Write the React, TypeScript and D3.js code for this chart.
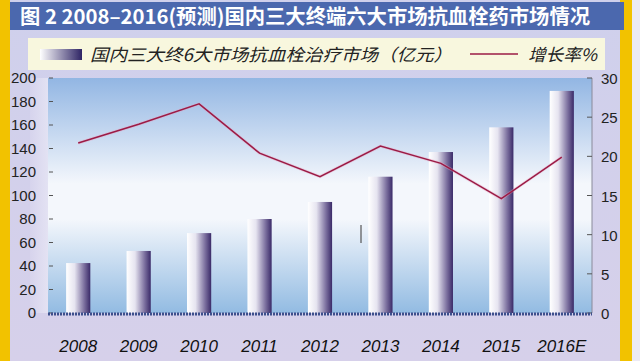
import React from "react";
import * as d3 from "d3";

const categories = ["2008", "2009", "2010", "2011", "2012", "2013", "2014", "2015", "2016E"];
const marketValues = [42.5, 52.8, 68, 80, 94.5, 116, 137, 158, 189];
const growthRates = [21.7, 24.1, 26.7, 20.4, 17.4, 21.3, 19.1, 14.6, 19.9];
const leftTicks = [0, 20, 40, 60, 80, 100, 120, 140, 160, 180, 200];
const rightTicks = [0, 5, 10, 15, 20, 25, 30];
const titleText = "图 2 2008–2016(预测)国内三大终端六大市场抗血栓药市场情况";
const legendBar = "国内三大终6大市场抗血栓治疗市场（亿元）";
const legendLine = "增长率%";

const W = 640, H = 361;
const plot = { left: 48, right: 592, top: 78, bottom: 313 };

export default function App() {
  const x = d3.scaleBand<string>().domain(categories).range([plot.left, plot.right]).paddingInner(0.6).paddingOuter(0.3);
  const yL = d3.scaleLinear().domain([0, 200]).range([plot.bottom, plot.top]);
  const yR = d3.scaleLinear().domain([0, 30]).range([plot.bottom, plot.top]);
  const cx = (c: string) => (x(c) as number) + x.bandwidth() / 2;
  const line = d3.line<number>().x((_, i) => cx(categories[i])).y(d => yR(d));
  const lineD = line(growthRates) || "";
  const sans = "'Liberation Sans', Arial, sans-serif";
  const cjk = "'Noto Sans CJK SC', sans-serif";

  return (
    <svg width={W} height={H} style={{ position: "absolute", left: 0, top: 0 }}>
      <defs>
        <linearGradient id="bg" x1="0" y1="0" x2="0" y2="1">
          <stop offset="0" stopColor="#cfd0ec" />
          <stop offset="1" stopColor="#d6d0ea" />
        </linearGradient>
        <linearGradient id="plotbg" x1="0" y1="0" x2="0" y2="1">
          <stop offset="0" stopColor="#92b6e3" />
          <stop offset="0.45" stopColor="#f4f7fc" />
          <stop offset="0.6" stopColor="#f4f7fc" />
          <stop offset="1" stopColor="#92bbe2" />
        </linearGradient>
        <linearGradient id="leftbg" x1="0" y1="0" x2="1" y2="0">
          <stop offset="0" stopColor="#d9d6ee" />
          <stop offset="1" stopColor="#eeeef8" />
        </linearGradient>
        <linearGradient id="bar" x1="0" y1="0" x2="1" y2="0">
          <stop offset="0" stopColor="#ffffff" />
          <stop offset="0.35" stopColor="#e6e4f0" />
          <stop offset="0.75" stopColor="#7b6f9e" />
          <stop offset="1" stopColor="#3a2a68" />
        </linearGradient>
        <linearGradient id="swatch" x1="0" y1="0" x2="1" y2="0">
          <stop offset="0" stopColor="#ffffff" />
          <stop offset="1" stopColor="#2e2464" />
        </linearGradient>
      </defs>
      <rect x={0} y={0} width={W} height={H} fill="url(#bg)" />
      <rect x={0} y={0} width={10} height={H} fill="#f2c200" />
      <rect x={620} y={0} width={12} height={H} fill="#f2c200" />
      <rect x={632} y={0} width={8} height={H} fill="#eceaf4" />
      {/* title bar */}
      <rect x={10} y={2} width={614} height={28} fill="#4b68ae" />
      <text x={20} y={24} fill="#ffffff" fontFamily={cjk} fontWeight="bold" fontSize={20} textLength={570} lengthAdjust="spacingAndGlyphs">{titleText}</text>
      {/* legend box */}
      <rect x={28} y={38} width={577} height={32} fill="#f8f7de" />
      <rect x={40} y={49} width={42} height={11} fill="url(#swatch)" />
      <text x={90} y={61} fontFamily={cjk} fontStyle="italic" fontSize={17} fill="#222" textLength={362} lengthAdjust="spacingAndGlyphs">{legendBar}</text>
      <line x1={470} x2={518} y1={54} y2={54} stroke="#9b1b45" strokeWidth={1.6} />
      <text x={528} y={61} fontFamily={cjk} fontStyle="italic" fontSize={17} fill="#222" textLength={69} lengthAdjust="spacingAndGlyphs">{legendLine}</text>
      {/* plot area */}
      <rect x={30} y={plot.top} width={plot.left - 30} height={plot.bottom - plot.top} fill="url(#leftbg)" opacity={0.6} />
      <rect x={plot.left} y={plot.top} width={plot.right - plot.left} height={plot.bottom - plot.top} fill="url(#plotbg)" />
      {/* left ticks */}
      {leftTicks.map(t => (
        <g key={"l" + t}>
          <line x1={plot.left + 1} x2={plot.left + 5} y1={yL(t)} y2={yL(t)} stroke="#555" strokeWidth={1} />
          <text x={36} y={yL(t) + 5} textAnchor="end" fontFamily={sans} fontSize={15} fill="#222">{t}</text>
        </g>
      ))}
      {/* right axis */}
      <line x1={plot.right} x2={plot.right} y1={plot.top} y2={plot.bottom} stroke="#8a8a9a" strokeWidth={1} />
      {rightTicks.map(t => (
        <g key={"r" + t}>
          <line x1={plot.right - 5} x2={plot.right} y1={yR(t)} y2={yR(t)} stroke="#555" strokeWidth={1} />
          <text x={601} y={yR(t) + 6} fontFamily={sans} fontSize={15} fill="#222">{t}</text>
        </g>
      ))}
      {/* bars */}
      {categories.map((c, i) => (
        <rect key={c} x={x(c)} y={yL(marketValues[i])} width={x.bandwidth()} height={yL(0) - yL(marketValues[i])} fill="url(#bar)" />
      ))}
      {/* bottom axis */}
      <line x1={plot.left} x2={plot.right} y1={plot.bottom + 1} y2={plot.bottom + 1} stroke="#3c4f8c" strokeWidth={3} strokeDasharray="2,1" />
      {/* growth line */}
      <path d={lineD} fill="none" stroke="#e8a0c0" strokeWidth={3} opacity={0.4} />
      <path d={lineD} fill="none" stroke="#9b1b45" strokeWidth={1.5} />
      {/* artifact mark */}
      <line x1={361} x2={361} y1={225} y2={243} stroke="#555" strokeWidth={1.2} />
      {/* x labels */}
      {categories.map(c => (
        <text key={"x" + c} x={cx(c)} y={352} textAnchor="middle" fontFamily={sans} fontStyle="italic" fontSize={17} fill="#111">{c}</text>
      ))}
    </svg>
  );
}
